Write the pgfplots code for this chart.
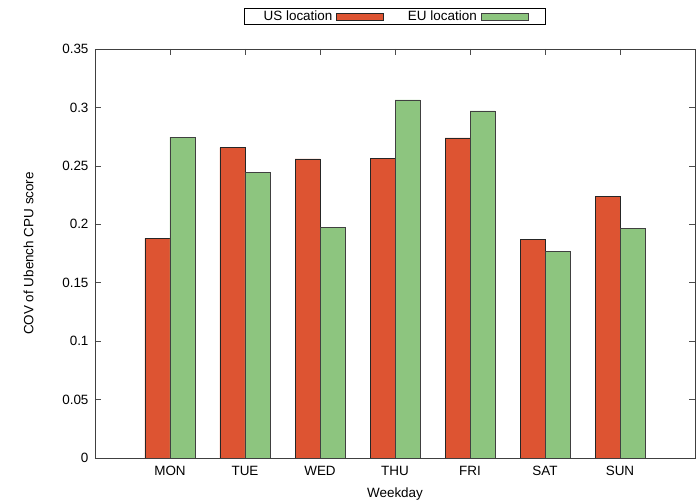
\documentclass[border=0pt]{standalone}
\usepackage{fontspec}
\setmainfont{Liberation Sans}
\usepackage{pgfplots}
\pgfplotsset{compat=1.18}
\definecolor{usred}{RGB}{221,84,50}
\definecolor{eugreen}{RGB}{141,197,127}
\begin{document}
\begin{tikzpicture}
\useasboundingbox (-95bp,-43bp) rectangle (602bp,458bp);
\begin{axis}[
  at={(0,0)}, anchor=south west,
  scale only axis, width=600bp, height=409bp,
  font=\fontsize{13.5}{16}\selectfont,
  /pgf/number format/assume math mode=true,
  ybar=0pt, bar width=25bp,
  xmin=-1, xmax=7, ymin=0, ymax=0.35,
  xtick={0,1,2,3,4,5,6},
  xticklabels={MON,TUE,WED,THU,FRI,SAT,SUN},
  ytick={0,0.05,0.1,0.15,0.2,0.25,0.3,0.35},
  yticklabels={0,0.05,0.1,0.15,0.2,0.25,0.3,0.35},
  xticklabel style={yshift=-5bp},
  yticklabel style={xshift=-3bp},
  tick align=inside, major tick length=6bp,
  tick style={black!70, line width=0.6pt},
  axis line style={black!75, line width=0.8pt},
  xtick pos=both, ytick pos=both,
  xlabel={Weekday}, ylabel={COV of Ubench CPU score},
  xlabel style={yshift=-5bp},
  ylabel style={yshift=22bp},
  legend columns=2,
  legend plot pos=right,
  legend style={at={(0.5,1)}, anchor=south, yshift=24bp, draw=black, line width=0.6pt,
    inner xsep=17bp, inner ysep=0.5bp,
    /tikz/every even column/.append style={column sep=22bp},
    /tikz/every odd column/.append style={column sep=2bp}},
  legend image code/.code={\draw[#1] (0bp,-3.5bp) rectangle (47bp,3.5bp);},
]
\addplot[fill=usred, draw=black!85, line width=0.6pt] coordinates {
  (0,0.188) (1,0.2655) (2,0.256) (3,0.2565) (4,0.274) (5,0.187) (6,0.2236)};
\addlegendentry{US location}
\addplot[fill=eugreen, draw=black!75, line width=0.6pt] coordinates {
  (0,0.2745) (1,0.2447) (2,0.197) (3,0.3064) (4,0.297) (5,0.177) (6,0.1962)};
\addlegendentry{EU location}
\end{axis}
\end{tikzpicture}
\end{document}
